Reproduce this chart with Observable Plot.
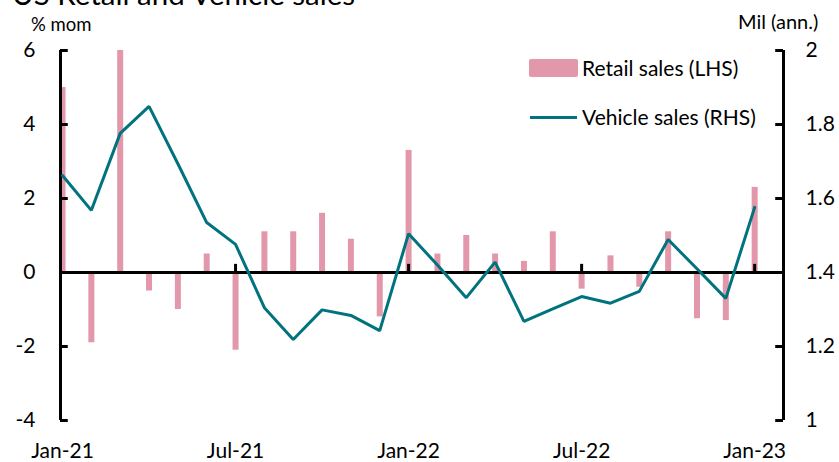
<!DOCTYPE html>
<html><head><meta charset="utf-8">
<script src="https://cdn.jsdelivr.net/npm/d3@7"></script>
<script src="https://cdn.jsdelivr.net/npm/@observablehq/plot@0.6"></script>
<style>
body{margin:0;background:#fff;font-family:Lato,sans-serif;color:#000;}
#wrap{position:relative;width:839px;height:462px;overflow:hidden;}
#chart{position:absolute;left:0;top:0;}
.lbl{position:absolute;white-space:nowrap;line-height:1;z-index:2;}
#title{left:12px;top:-21px;font-size:29.5px;}
#lunit{left:31px;top:15px;font-size:18.5px;}
#runit{left:738px;top:11px;font-size:20px;}
.sw{position:absolute;z-index:2;}
</style></head><body>
<div id="wrap">
<div id="chart"></div>
<div class="lbl" id="title">US Retail and Vehicle sales</div>
<div class="lbl" id="lunit">% mom</div>
<div class="lbl" id="runit">Mil (ann.)</div>
<div class="sw" id="sw1" style="left:529px;top:59px;width:49px;height:18px;border-radius:2px;"></div>
<div class="lbl" id="leg1" style="left:582px;top:57px;font-size:21px;"></div>
<div class="sw" id="sw2" style="left:530px;top:115.5px;width:47px;height:3px;"></div>
<div class="lbl" id="leg2" style="left:582px;top:106px;font-size:21px;"></div>
</div>
<script>
const months = ["Jan-21","Feb-21","Mar-21","Apr-21","May-21","Jun-21","Jul-21","Aug-21","Sep-21","Oct-21","Nov-21","Dec-21",
  "Jan-22","Feb-22","Mar-22","Apr-22","May-22","Jun-22","Jul-22","Aug-22","Sep-22","Oct-22","Nov-22","Dec-22","Jan-23"];
const retailSales = [5.0,-1.9,10.7,-0.5,-1.0,0.5,-2.1,1.1,1.1,1.6,0.9,-1.2,3.3,0.5,1.0,0.5,0.3,1.1,-0.45,0.45,-0.4,1.1,-1.25,-1.3,2.3];
const vehicleSales = [1.662,1.568,1.776,1.849,1.694,1.535,1.476,1.305,1.219,1.299,1.284,1.243,1.505,1.42,1.332,1.428,1.268,1.302,1.335,1.317,1.349,1.489,1.41,1.33,1.576];
const xTickIdx = [0,6,12,18,24];
const xMinorTicks = [6,12,18,24];
const leftTicks = [-4,-2,0,2,4,6];
const rightTicks = [1,1.2,1.4,1.6,1.8,2];
const seriesNames = ["Retail sales (LHS)","Vehicle sales (RHS)"];
const colors = {retail:"#e397aa", vehicle:"#00737e"};

const toLeft = v => (v - 1.4) * 10;
const xMin = -0.07, xMax = 25.0;
const tickLenX = 0.27, tickLenY = 0.22;

const rows = months.map((m,i)=>({i, m, retail: retailSales[i], vehicle: vehicleSales[i]}));

document.getElementById("sw1").style.background = colors.retail;
document.getElementById("sw2").style.background = colors.vehicle;
document.getElementById("leg1").textContent = seriesNames[0];
document.getElementById("leg2").textContent = seriesNames[1];

const chart = Plot.plot({
  width: 839, height: 462,
  marginLeft: 60, marginRight: 56, marginTop: 50, marginBottom: 42,
  style: {fontFamily: "Lato, sans-serif", fontSize: "21px", color: "#000", background: "transparent", overflow: "visible"},
  x: {type: "linear", domain: [xMin, xMax], axis: null},
  y: {domain: [-4, 6], axis: null},
  marks: [
    Plot.ruleX(rows, {x: "i", y1: 0, y2: "retail", stroke: colors.retail, strokeWidth: 6, clip: true}),
    Plot.ruleY([0], {stroke: "#000", strokeWidth: 3}),
    Plot.ruleX(xMinorTicks, {x: d=>d, y1: 0, y2: tickLenY, stroke: "#000", strokeWidth: 3}),
    Plot.ruleX([xMin, xMax], {stroke: "#000", strokeWidth: 3}),
    Plot.ruleY(leftTicks, {y: d=>d, x1: xMin, x2: xMin + tickLenX, stroke: "#000", strokeWidth: 3}),
    Plot.ruleY(rightTicks.map(toLeft), {y: d=>d, x1: xMax - tickLenX, x2: xMax, stroke: "#000", strokeWidth: 3}),
    Plot.line(rows, {x: "i", y: d => toLeft(d.vehicle), stroke: colors.vehicle, strokeWidth: 3, strokeLinejoin: "miter"}),
    Plot.axisY(leftTicks, {anchor: "left", label: null, tickSize: 0, tickPadding: 25, fontSize: 21, tickFormat: d => String(d)}),
    Plot.axisY(rightTicks.map(toLeft), {anchor: "right", label: null, tickSize: 0, tickPadding: 22, fontSize: 21, tickFormat: d => String(+(1.4 + d/10).toFixed(1))}),
    Plot.axisX(xTickIdx, {anchor: "bottom", label: null, tickSize: 0, tickPadding: 23, fontSize: 21, tickFormat: d => months[d]})
  ]
});
document.getElementById("chart").appendChild(chart);
</script>
</body></html>
